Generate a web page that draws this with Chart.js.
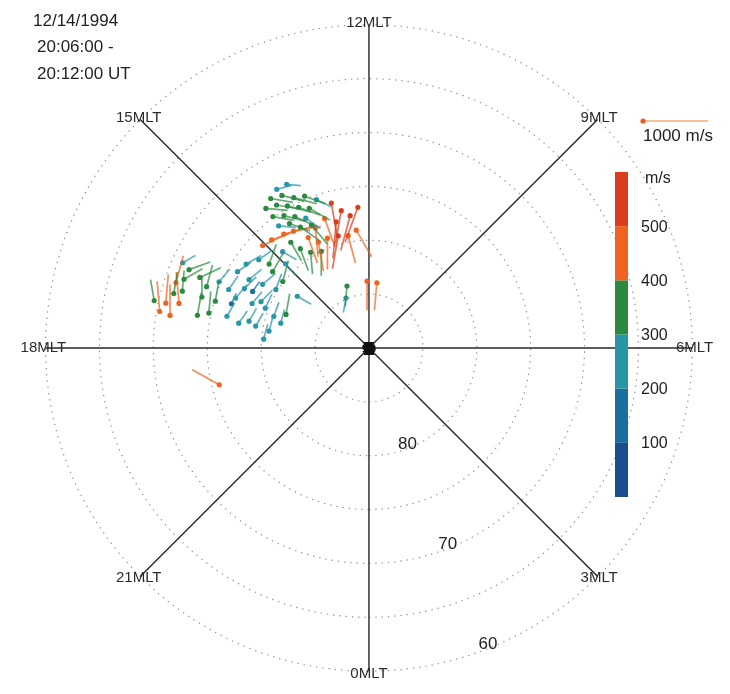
<!DOCTYPE html>
<html><head><meta charset="utf-8">
<script src="https://cdn.jsdelivr.net/npm/chart.js@4/dist/chart.umd.min.js"></script>
<style>html,body{margin:0;padding:0;background:#fff;}#wrap{width:730px;height:694px;}</style>
</head><body><div id="wrap"><canvas id="c" width="730" height="694"></canvas></div>
<script>
// ---- data: merged velocity vectors ----
const vecMLT = [14.01,13.78,
 14.22,13.98,13.77,13.53,13.30,
 14.43,14.19,13.99,13.77,13.54,
 14.41,14.18,13.96,13.73,
 14.43,14.17,13.97,13.67,
 15.07,14.80,14.45,14.19,
 12.30,12.54,12.76,12.97,12.97,13.26,13.60,12.70,13.02,13.38,13.70,13.92,12.41,
 14.31,14.09,14.43,13.75,
 14.79,14.98,
 17.17,17.34,17.17,17.38,16.96,17.12,16.87,16.75,16.36,
 16.43,16.64,16.49,17.28,17.18,16.87,16.87,16.62,
 16.41,16.49,17.16,17.28,16.63,16.30,16.02,16.61,15.71,15.42,17.27,16.45,15.94,15.99,
 15.44,15.33,15.49,15.86,15.61,16.60,16.77,16.95,16.53,17.36,17.68,17.16,16.81,16.27,
 13.30,13.65,12.11,11.54,
 18.92];
const vecLat = [72.97,73.0,
 73.4,73.7,74.4,74.7,75.4,
 73.9,74.2,74.8,75.4,75.9,
 74.9,75.4,76.0,76.6,
 75.9,76.3,77.1,77.4,
 76.3,76.5,76.8,77.1,
 76.9,77.6,77.0,76.1,77.9,77.3,77.8,79.4,79.2,79.1,79.1,78.3,79.0,
 78.8,79.6,77.8,80.0,
 78.0,79.0,
 69.6,70.3,70.7,71.3,71.2,71.9,71.9,71.1,71.0,
 71.8,71.7,73.0,73.8,74.8,73.8,75.1,73.9,
 74.8,75.9,76.5,77.7,76.8,77.2,77.2,78.4,76.2,76.9,79.3,79.1,78.5,75.9,
 78.6,77.9,79.9,79.8,81.8,79.7,80.7,81.5,81.7,80.6,80.2,78.6,76.6,78.0,
 83.9,84.9,83.8,83.9,
 75.7];
// speed in m/s
const vecSpeed = [240,220,
 350,360,370,340,260,
 340,360,380,350,370,
 330,350,360,280,
 270,340,360,380,
 460,450,470,430,
 580,560,530,520,570,470,450,440,520,490,460,420,480,
 360,340,330,380,
 250,240,
 330,470,450,480,340,490,320,430,230,
 350,330,360,360,340,330,320,350,
 260,250,240,230,270,260,250,240,270,260,230,250,260,250,
 320,330,340,260,250,240,230,220,330,230,240,230,180,190,
 320,230,450,430,
 480];
// direction, degrees clockwise from sunward (12 MLT) toward dawn (6 MLT)
const vecAzimuth = [75,95,
 100,105,105,110,115,
 95,100,105,110,120,
 100,105,115,125,
 95,110,125,140,
 65,70,75,80,
 200,195,190,170,185,160,175,165,190,180,170,160,150,
 160,175,150,180,
 120,140,
 350,355,5,0,10,355,5,15,60,
 70,60,65,10,5,0,10,15,
 40,35,30,35,40,45,50,40,60,55,30,45,50,55,
 30,20,15,20,120,25,20,15,10,15,15,30,25,35,
 185,190,180,185,
 299];

// ---- grid / labels ----
const circleLats = [85,80,75,70,65,60];
const spokeMLTs = [0,3,6,9,12,15,18,21];
const latLabels = [80,70,60];
const latLabelMLT = 1.46;
const cbLevels = [0,100,200,300,400,500,600];
const cbTickLabels = ['100','200','300','400','500'];
const cbColors = ['#1b4e8a','#1d6d9f','#2797a7','#2a8a40','#f0621f','#da3c1c'];
const refSpeed = 1000;
const titleLines = ['12/14/1994','20:06:00 -','20:12:00 UT'];

// ---- layout (style) ----
const W = 730, H = 694, CX = 369, CY = 348, PX_PER_DEG = 10.9;
const VEL_PX = 0.065; // px per m/s

function toXY(mlt, lat) {
  const c = 90 - lat, p = (mlt - 6) * 15 * Math.PI / 180;
  return {x: c * Math.cos(p), y: c * Math.sin(p)};
}
function colorFor(v) {
  let i = Math.floor(v / 100);
  if (i < 0) i = 0; if (i > cbColors.length - 1) i = cbColors.length - 1;
  return cbColors[i];
}
function alpha(hex, a) {
  const n = parseInt(hex.slice(1), 16);
  return `rgba(${(n>>16)&255},${(n>>8)&255},${n&255},${a})`;
}

const datasets = [];
circleLats.forEach(lat => {
  const pts = [];
  for (let k = 0; k <= 360; k += 2) pts.push(toXY(k / 15, lat));
  datasets.push({data: pts, showLine: true, pointRadius: 0, borderColor: '#8c8c8c',
    borderWidth: 1.2, borderDash: [1.3, 5], order: 20, clip: false});
});
spokeMLTs.forEach(m => {
  datasets.push({data: [{x: 0, y: 0}, toXY(m, 60)], showLine: true, pointRadius: 0,
    borderColor: '#262626', borderWidth: 1.4, order: 15, clip: false});
});
vecMLT.forEach((m, i) => {
  const s = toXY(m, vecLat[i]);
  const L = vecSpeed[i] * VEL_PX / PX_PER_DEG;
  const a = vecAzimuth[i] * Math.PI / 180;
  const e = {x: s.x + Math.sin(a) * L, y: s.y + Math.cos(a) * L};
  const col = colorFor(vecSpeed[i]);
  datasets.push({data: [s, e], showLine: true, borderColor: alpha(col, 0.72), borderWidth: 1.7,
    pointRadius: [2.6, 0], pointBackgroundColor: col, pointBorderWidth: 0, order: 1, clip: false});
});

const overlay = {
  id: 'overlay',
  afterDatasetsDraw(chart) {
    const ctx = chart.ctx, xs = chart.scales.x, ys = chart.scales.y;
    const P = (p) => [xs.getPixelForValue(p.x), ys.getPixelForValue(p.y)];
    ctx.save();
    // MLT labels
    ctx.font = '15px "Liberation Sans", Arial, sans-serif';
    ctx.fillStyle = '#2b2b2b';
    ctx.textAlign = 'center'; ctx.textBaseline = 'middle';
    spokeMLTs.forEach(m => {
      const [px, py] = P(toXY(m, 59.8));
      ctx.fillText(m + 'MLT', px, py);
    });
    // latitude labels
    ctx.font = '17px "Liberation Sans", Arial, sans-serif';
    ctx.fillStyle = '#222';
    latLabels.forEach(l => {
      const [px, py] = P(toXY(latLabelMLT, l + 0.4));
      ctx.fillText(String(l), px, py);
    });
    // center 90
    const [cx, cy] = P({x: 0, y: 0});
    ctx.fillStyle = '#111';
    ctx.fillRect(cx - 5, cy - 6, 10, 13);
    ctx.font = 'bold 13px "Liberation Sans", Arial, sans-serif';
    ctx.fillText('90', cx, cy + 1);
    // title
    ctx.textAlign = 'left';
    ctx.font = '17px "Liberation Sans", Arial, sans-serif';
    ctx.fillStyle = '#222';
    ctx.fillText(titleLines[0], 33, 21);
    ctx.fillText(titleLines[1], 37, 47);
    ctx.fillText(titleLines[2], 37, 74);
    // reference vector
    const rx = 643, ry = 121, rl = refSpeed * VEL_PX;
    ctx.strokeStyle = 'rgba(244,150,80,0.8)'; ctx.lineWidth = 1.6;
    ctx.beginPath(); ctx.moveTo(rx, ry); ctx.lineTo(rx + rl, ry); ctx.stroke();
    ctx.fillStyle = '#f0581e';
    ctx.beginPath(); ctx.arc(rx, ry, 2.6, 0, Math.PI * 2); ctx.fill();
    ctx.fillStyle = '#222';
    ctx.fillText(refSpeed + ' m/s', 643, 136);
    // colorbar
    const cbx = 615, cbw = 13, cbTop = 172, cbBot = 497;
    const vmax = cbLevels[cbLevels.length - 1];
    const yv = v => cbBot - (v / vmax) * (cbBot - cbTop);
    for (let i = 0; i < cbColors.length; i++) {
      ctx.fillStyle = cbColors[i];
      ctx.fillRect(cbx, yv(cbLevels[i + 1]), cbw, yv(cbLevels[i]) - yv(cbLevels[i + 1]));
    }
    ctx.font = '16px "Liberation Sans", Arial, sans-serif';
    ctx.fillStyle = '#222';
    ctx.fillText('m/s', 645, 179);
    cbTickLabels.forEach(t => ctx.fillText(t, 641, yv(Number(t)) + 1));
    ctx.restore();
  }
};

new Chart(document.getElementById('c'), {
  type: 'scatter',
  data: {datasets},
  options: {
    responsive: false, animation: false, events: [],
    layout: {padding: 0},
    plugins: {legend: {display: false}, tooltip: {enabled: false}, title: {display: false}},
    elements: {line: {tension: 0}},
    scales: {
      x: {type: 'linear', display: false, min: -CX / PX_PER_DEG, max: (W - CX) / PX_PER_DEG},
      y: {type: 'linear', display: false, min: -(H - CY) / PX_PER_DEG, max: CY / PX_PER_DEG}
    }
  },
  plugins: [overlay]
});
</script></body></html>
